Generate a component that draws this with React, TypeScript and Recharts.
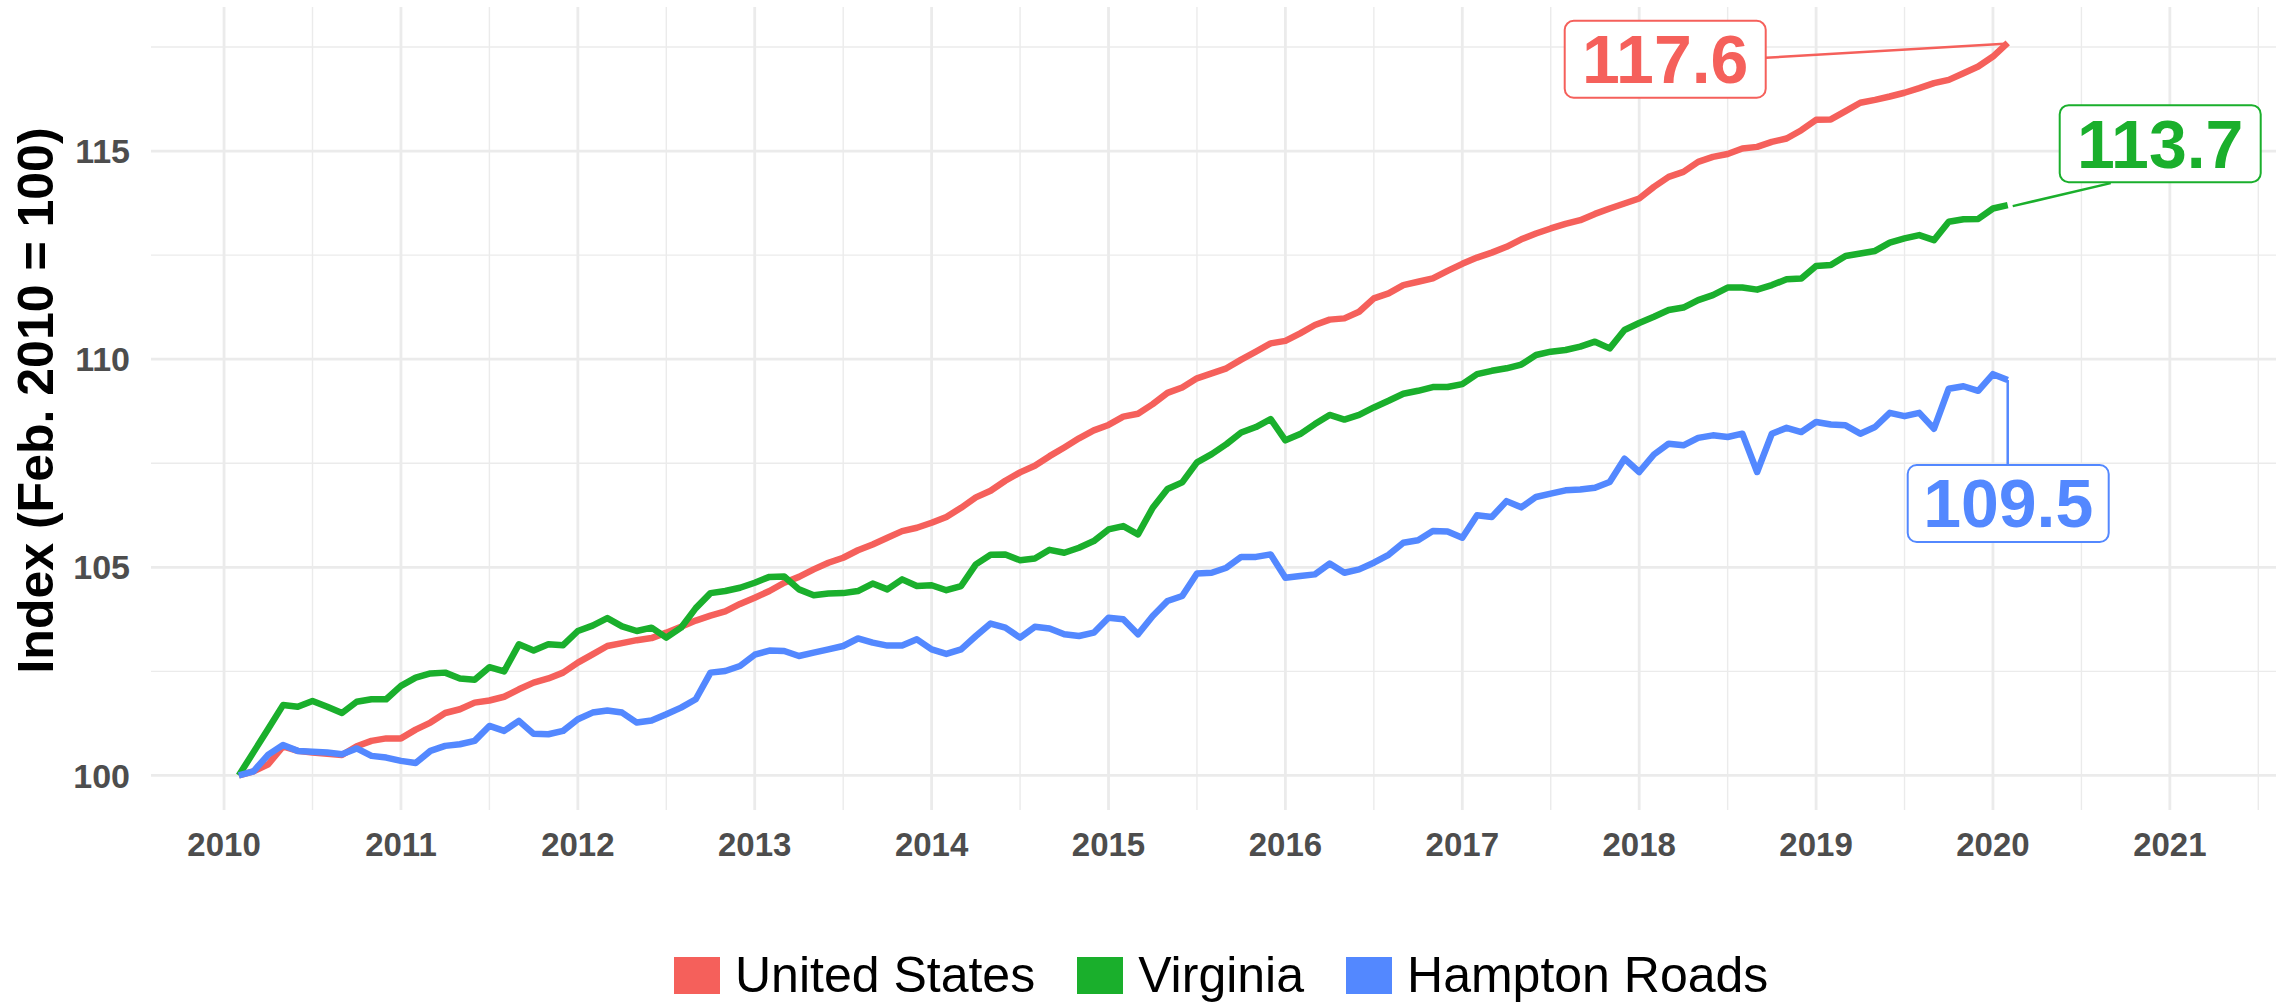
import React from "react"
import { LineChart, Line, XAxis, YAxis, ReferenceLine, ReferenceDot, Legend } from "recharts"

// monthly index, Feb 2010 = 100, Feb 2010 .. Feb 2020
const startYear = 2010
const startMonth = 2

const unitedStates = [
  100.0, 100.1, 100.27, 100.7, 100.59, 100.55, 100.52, 100.49, 100.7, 100.83, 100.89,
  100.89, 101.1, 101.27, 101.5, 101.59, 101.75, 101.8, 101.89, 102.07, 102.23, 102.33, 102.47,
  102.71, 102.91, 103.11, 103.18, 103.25, 103.3, 103.43, 103.57, 103.72, 103.84, 103.94, 104.12,
  104.27, 104.43, 104.63, 104.77, 104.95, 105.11, 105.23, 105.41, 105.55, 105.71, 105.87, 105.95,
  106.07, 106.21, 106.43, 106.68, 106.84, 107.08, 107.28, 107.44, 107.67, 107.88, 108.1, 108.29,
  108.42, 108.62, 108.69, 108.92, 109.19, 109.32, 109.54, 109.66, 109.78, 109.99, 110.18, 110.38,
  110.44, 110.62, 110.82, 110.95, 110.98, 111.14, 111.46, 111.58, 111.78, 111.86, 111.94, 112.12,
  112.29, 112.44, 112.56, 112.7, 112.88, 113.02, 113.14, 113.25, 113.34, 113.49, 113.62, 113.74,
  113.86, 114.14, 114.38, 114.5, 114.74, 114.86, 114.93, 115.06, 115.1, 115.22, 115.3, 115.5,
  115.75, 115.76, 115.96, 116.16, 116.23, 116.31, 116.4, 116.51, 116.63, 116.71, 116.87, 117.03,
  117.27, 117.6,
]

const virginia = [
  100.0, 100.56, 101.12, 101.69, 101.65, 101.79, 101.65, 101.5, 101.77, 101.83, 101.83,
  102.15, 102.35, 102.45, 102.47, 102.33, 102.3, 102.6, 102.5, 103.15, 103.0, 103.15, 103.13,
  103.47, 103.6, 103.78, 103.58, 103.47, 103.55, 103.31, 103.55, 104.02, 104.38, 104.43, 104.51,
  104.63, 104.77, 104.78, 104.47, 104.33, 104.37, 104.38, 104.43, 104.61, 104.47, 104.71, 104.55,
  104.57, 104.45, 104.55, 105.07, 105.3, 105.31, 105.17, 105.21, 105.42, 105.35, 105.47, 105.63,
  105.91, 105.99, 105.79, 106.43, 106.88, 107.04, 107.52, 107.72, 107.96, 108.24, 108.37, 108.56,
  108.05, 108.2, 108.44, 108.66, 108.55, 108.66, 108.84, 109.0, 109.17, 109.24, 109.33, 109.33,
  109.4, 109.64, 109.72, 109.78, 109.87, 110.1, 110.18, 110.22, 110.3, 110.42, 110.26, 110.7,
  110.87, 111.02, 111.18, 111.24, 111.42, 111.54, 111.72, 111.72, 111.67, 111.78, 111.92, 111.94,
  112.24, 112.26, 112.48, 112.54, 112.6, 112.8, 112.9, 112.98, 112.86, 113.3, 113.36, 113.37,
  113.62, 113.7,
]

const hamptonRoads = [
  100.0, 100.1, 100.5, 100.73, 100.59, 100.57, 100.55, 100.51, 100.65, 100.47, 100.43,
  100.35, 100.3, 100.59, 100.71, 100.75, 100.83, 101.19, 101.07, 101.31, 101.0, 100.99, 101.07,
  101.35, 101.51, 101.56, 101.51, 101.27, 101.32, 101.47, 101.63, 101.83, 102.47, 102.51, 102.63,
  102.9, 103.0, 102.99, 102.87, 102.95, 103.03, 103.11, 103.29, 103.19, 103.12, 103.12, 103.27,
  103.03, 102.92, 103.03, 103.35, 103.65, 103.55, 103.31, 103.57, 103.53, 103.39, 103.35, 103.43,
  103.79, 103.75, 103.39, 103.83, 104.19, 104.31, 104.85, 104.87, 104.99, 105.25, 105.25, 105.31,
  104.75, 104.79, 104.83, 105.09, 104.87, 104.95, 105.11, 105.3, 105.59, 105.65, 105.87, 105.86,
  105.71, 106.25, 106.21, 106.59, 106.44, 106.69, 106.77, 106.85, 106.87, 106.91, 107.05, 107.61,
  107.29, 107.71, 107.97, 107.93, 108.11, 108.17, 108.13, 108.21, 107.29, 108.21, 108.35, 108.25,
  108.49, 108.43, 108.41, 108.21, 108.37, 108.71, 108.63, 108.71, 108.33, 109.29, 109.35, 109.24,
  109.64, 109.5,
]

const yearTicks = [2010, 2011, 2012, 2013, 2014, 2015, 2016, 2017, 2018, 2019, 2020, 2021]
const yearMinor = [2010.5, 2011.5, 2012.5, 2013.5, 2014.5, 2015.5, 2016.5, 2017.5, 2018.5, 2019.5, 2020.5, 2021.5]
const valueTicks = [100, 105, 110, 115]
const valueMinor = [102.5, 107.5, 112.5, 117.5]

const RED = "#F5605B"
const GREEN = "#1AAF2C"
const BLUE = "#5388FF"
const GRID = "#EBEBEB"
const FONT = "'Liberation Sans', Arial, Helvetica, sans-serif"

const series = [
  { key: "us", name: "United States", color: RED },
  { key: "va", name: "Virginia", color: GREEN },
  { key: "hr", name: "Hampton Roads", color: BLUE },
]

const data = unitedStates.map((v, i) => ({
  x: startYear + (startMonth - 1 + i) / 12,
  us: v,
  va: virginia[i],
  hr: hamptonRoads[i],
}))
const last = data[data.length - 1]

// label box placed relative to the end point; seg = connector [x1, y1, x2, y2] offsets
function endLabel(text: string, color: string, box: { dx: number; dy: number }, seg: number[]) {
  const w = 201
  const h = 77
  return (props: any) => {
    const { cx, cy } = props
    if (cx == null || cy == null) return <g />
    const bx = cx + box.dx
    const by = cy + box.dy
    return (
      <g>
        <line x1={cx + seg[0]} y1={cy + seg[1]} x2={cx + seg[2]} y2={cy + seg[3]} stroke={color} strokeWidth={2.5} />
        <rect x={bx} y={by} width={w} height={h} rx={9} ry={9} fill="#fff" stroke={color} strokeWidth={2} />
        <text x={bx + w / 2} y={by + h / 2 + 24} textAnchor="middle" fontFamily={FONT} fontWeight="bold" fontSize={68} fill={color}>
          {text}
        </text>
      </g>
    )
  }
}

function LegendContent() {
  return (
    <div style={{ display: "flex", alignItems: "center", fontFamily: FONT, fontSize: 50, color: "#000" }}>
      {series.map((s, i) => (
        <div key={s.key} style={{ display: "flex", alignItems: "center", marginRight: i < series.length - 1 ? 42 : 0 }}>
          <div style={{ width: 46, height: 37, background: s.color, marginRight: 15 }} />
          <span style={{ lineHeight: "50px" }}>{s.name}</span>
        </div>
      ))}
    </div>
  )
}

function YTitle(props: any) {
  const vb = props.viewBox || { x: 0, y: 7, width: 151, height: 803 }
  const x = vb.x + 36
  const y = vb.y + vb.height / 2 - 8
  return (
    <text x={x} y={y} transform={`rotate(-90, ${x}, ${y})`} textAnchor="middle" dominantBaseline="central" fontFamily={FONT} fontWeight="bold" fontSize={50} fill="#000">
      Index (Feb. 2010 = 100)
    </text>
  )
}

export default function App() {
  return (
    <div style={{ width: 2281, height: 1003, background: "#fff", position: "relative" }}>
      <style>{"body{margin:0;background:#fff}"}</style>
      <LineChart width={2281} height={1003} data={data} margin={{ top: 7, right: 5, left: 0, bottom: 0 }}>
        {yearMinor.map((v) => (
          <ReferenceLine key={"vx" + v} x={v} stroke={GRID} strokeWidth={1.4} />
        ))}
        {valueMinor.map((v) => (
          <ReferenceLine key={"hy" + v} y={v} stroke={GRID} strokeWidth={1.4} />
        ))}
        {yearTicks.map((v) => (
          <ReferenceLine key={"VX" + v} x={v} stroke={GRID} strokeWidth={2.8} />
        ))}
        {valueTicks.map((v) => (
          <ReferenceLine key={"HY" + v} y={v} stroke={GRID} strokeWidth={2.8} />
        ))}
        <XAxis
          type="number"
          dataKey="x"
          domain={[2009.587, 2021.6]}
          ticks={yearTicks}
          allowDataOverflow
          height={193}
          axisLine={false}
          tickLine={false}
          tickSize={0}
          tickMargin={23}
          tickFormatter={(v) => String(Math.round(v))}
          tick={{ fill: "#4D4D4D", fontSize: 33, fontWeight: "bold", fontFamily: FONT }}
        />
        <YAxis
          type="number"
          domain={[99.17, 118.46]}
          ticks={valueTicks}
          allowDataOverflow
          width={151}
          axisLine={false}
          tickLine={false}
          tickSize={0}
          tickMargin={21}
          tick={{ fill: "#4D4D4D", fontSize: 34, fontWeight: "bold", fontFamily: FONT }}
          label={<YTitle />}
        />
        {series.map((s) => (
          <Line
            key={s.key}
            type="linear"
            dataKey={s.key}
            name={s.name}
            stroke={s.color}
            strokeWidth={6.5}
            strokeLinejoin="round"
            dot={false}
            activeDot={false}
            isAnimationActive={false}
          />
        ))}
        <ReferenceDot x={last.x} y={last.us} r={0} shape={endLabel("117.6", RED, { dx: -443, dy: -22 }, [-242, 15, -3, 1])} />
        <ReferenceDot x={last.x} y={last.va} r={0} shape={endLabel("113.7", GREEN, { dx: 52, dy: -100 }, [103, -22, 5, 1])} />
        <ReferenceDot x={last.x} y={last.hr} r={0} shape={endLabel("109.5", BLUE, { dx: -100, dy: 85 }, [0, 0, 0, 85])} />
        <Legend
          layout="horizontal"
          verticalAlign="middle"
          align="center"
          content={<LegendContent />}
          wrapperStyle={{ top: 950, left: 674, width: 1200, height: 50 }}
        />
      </LineChart>
    </div>
  )
}
